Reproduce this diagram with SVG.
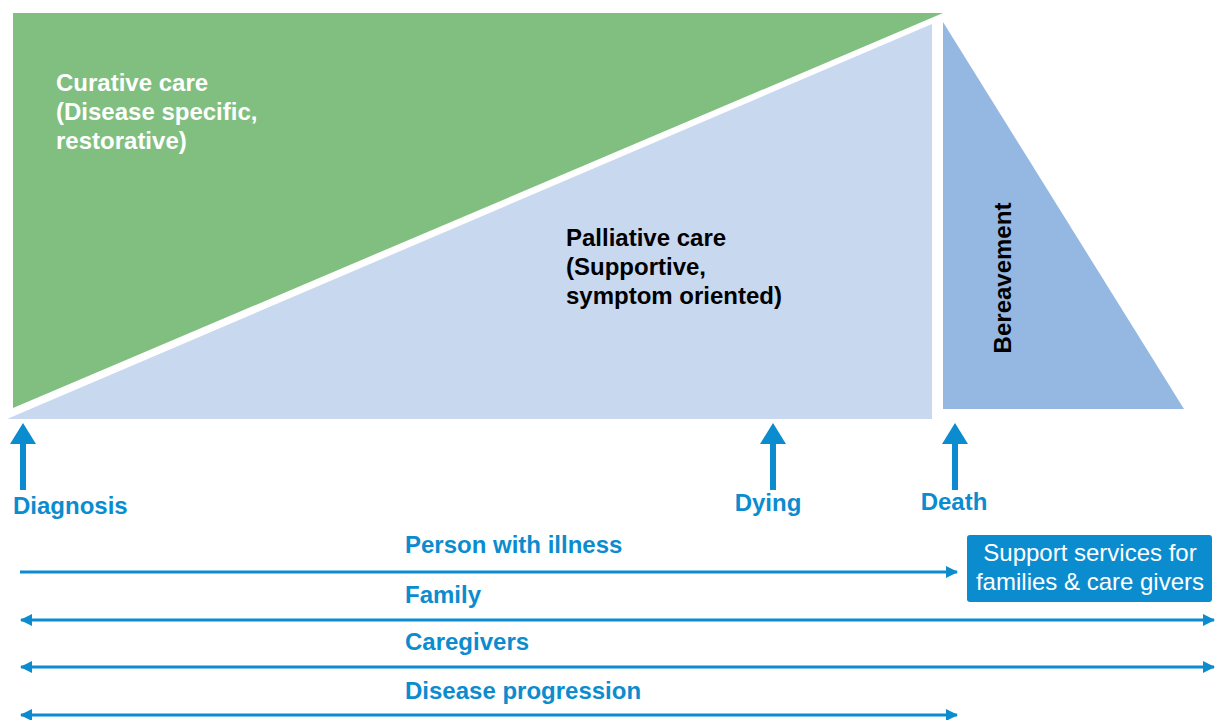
<svg xmlns="http://www.w3.org/2000/svg" width="1216" height="720" viewBox="0 0 1216 720">
<style>
.lbl{font-family:"Liberation Sans",Arial,sans-serif;font-weight:bold;font-size:24px}
.blue{fill:#0b8ccf}
.ln{stroke:#0b8ccf;stroke-width:3;fill:none}
.up{fill:#0b8ccf}
</style>
<defs>
<marker id="ah" viewBox="0 0 12 12" refX="11" refY="6" markerWidth="12" markerHeight="12" markerUnits="userSpaceOnUse" orient="auto-start-reverse">
<path d="M0,0 L12,6 L0,12 Z" fill="#0b8ccf"/>
</marker>
</defs>
<g id="curative">
<polygon points="13,13 943,13 13,408" fill="#80bf7f"/>
<text class="lbl" fill="#fff" x="56" y="91">Curative care</text>
<text class="lbl" fill="#fff" x="56" y="120">(Disease specific,</text>
<text class="lbl" fill="#fff" x="56" y="149">restorative)</text>
</g>
<g id="palliative">
<polygon points="7,419 932,24 932,419" fill="#c8d8ef"/>
<text class="lbl" fill="#000" x="566" y="246">Palliative care</text>
<text class="lbl" fill="#000" x="566" y="275">(Supportive,</text>
<text class="lbl" fill="#000" x="566" y="304">symptom oriented)</text>
</g>
<g id="bereavement">
<polygon points="943,22 1184,409 943,409" fill="#95b8e2"/>
<text class="lbl" fill="#000" transform="translate(1011,278) rotate(-90)" text-anchor="middle">Bereavement</text>
</g>
<g id="diagnosis">
<rect x="20" y="443" width="6" height="47" class="up"/>
<polygon points="10,444 23,423 36,444" class="up"/>
<text class="lbl blue" x="13" y="514">Diagnosis</text>
</g>
<g id="dying">
<rect x="770" y="443" width="6" height="47" class="up"/>
<polygon points="760,444 773,423 786,444" class="up"/>
<text class="lbl blue" x="768" y="511" text-anchor="middle">Dying</text>
</g>
<g id="death">
<rect x="952" y="443" width="6" height="47" class="up"/>
<polygon points="942,444 955,423 968,444" class="up"/>
<text class="lbl blue" x="954" y="510" text-anchor="middle">Death</text>
</g>
<g id="support">
<rect x="967" y="535" width="245" height="67" rx="3" fill="#0b8ccf"/>
<text x="1090" y="561" text-anchor="middle" fill="#fff" font-family="Liberation Sans,Arial,sans-serif" font-size="24">Support services for</text>
<text x="1090" y="590" text-anchor="middle" fill="#fff" font-family="Liberation Sans,Arial,sans-serif" font-size="24">families &amp; care givers</text>
</g>
<g id="labels">
<text class="lbl blue" x="405" y="553">Person with illness</text>
<text class="lbl blue" x="405" y="603">Family</text>
<text class="lbl blue" x="405" y="650">Caregivers</text>
<text class="lbl blue" x="405" y="699">Disease progression</text>
</g>
<g id="connectors">
<line class="ln" x1="20" y1="572" x2="957" y2="572" marker-end="url(#ah)"/>
<line class="ln" x1="21" y1="620" x2="1214" y2="620" marker-start="url(#ah)" marker-end="url(#ah)"/>
<line class="ln" x1="21" y1="667" x2="1214" y2="667" marker-start="url(#ah)" marker-end="url(#ah)"/>
<line class="ln" x1="21" y1="715" x2="957" y2="715" marker-start="url(#ah)" marker-end="url(#ah)"/>
</g>
</svg>
